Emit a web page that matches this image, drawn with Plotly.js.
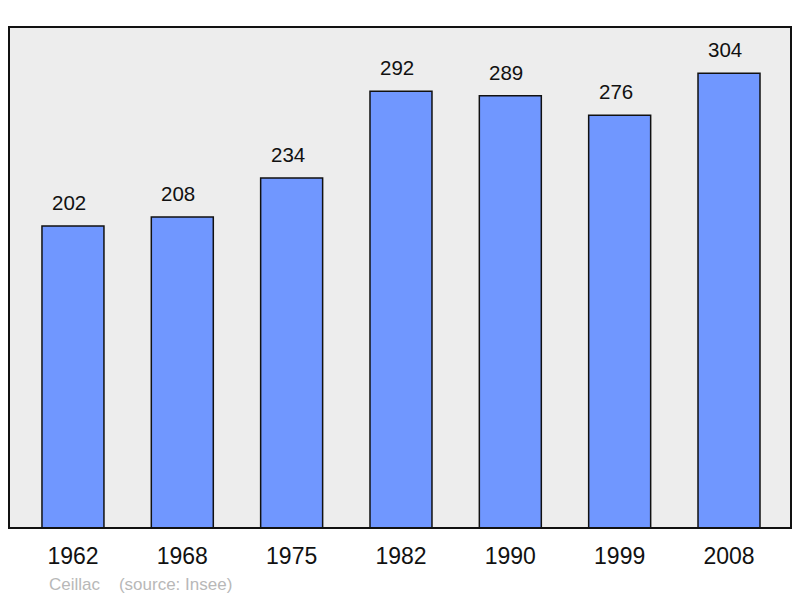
<!DOCTYPE html>
<html>
<head>
<meta charset="utf-8">
<script src="https://cdn.plot.ly/plotly-3.0.1.min.js"></script>
<style>html,body{margin:0;padding:0;background:#fff;}#chart{width:800px;height:598px;}</style>
</head>
<body>
<div id="chart"></div>
<script>
var years = ["1962", "1968", "1975", "1982", "1990", "1999", "2008"];
var population = [202, 208, 234, 292, 289, 276, 304];
var caption = "Ceillac&nbsp;&nbsp;&nbsp;&nbsp;(source: Insee)";

var trace = {
  type: "bar",
  x: years,
  y: population,
  marker: {color: "#7097ff", line: {color: "#111", width: 1.5}},
  hoverinfo: "x+y"
};

var annotations = years.map(function (yr, i) {
  return {
    x: i, y: population[i], xref: "x", yref: "y",
    text: String(population[i]), showarrow: false,
    yanchor: "bottom", yshift: 10, xshift: -4,
    font: {family: "Liberation Sans, Arial, sans-serif", size: 20.5, color: "#111"}
  };
});
annotations.push({
  xref: "paper", yref: "paper", x: 0.049, y: -0.112, xanchor: "left", yanchor: "middle",
  text: caption, showarrow: false,
  font: {family: "Liberation Sans, Arial, sans-serif", size: 17, color: "#b8b8b8"}
});

var layout = {
  width: 800, height: 598,
  margin: {l: 9, r: 9, t: 27, b: 70},
  paper_bgcolor: "#ffffff",
  plot_bgcolor: "#ededed",
  bargap: 0.433,
  showlegend: false,
  xaxis: {
    type: "category",
    range: [-0.585, 6.567],
    showgrid: false, zeroline: false, showline: false, ticks: "",
    ticklabelstandoff: 12,
    tickfont: {family: "Liberation Sans, Arial, sans-serif", size: 23, color: "#111"},
    fixedrange: true
  },
  yaxis: {
    range: [0, 335],
    showgrid: false, zeroline: false, showline: false, showticklabels: false, ticks: "",
    fixedrange: true
  },
  shapes: [{
    type: "rect", xref: "paper", yref: "paper", x0: 0, x1: 1, y0: 0, y1: 1,
    line: {color: "#111", width: 2}, layer: "above"
  }],
  annotations: annotations
};

Plotly.newPlot("chart", [trace], layout, {displayModeBar: false, staticPlot: true});
</script>
</body>
</html>
